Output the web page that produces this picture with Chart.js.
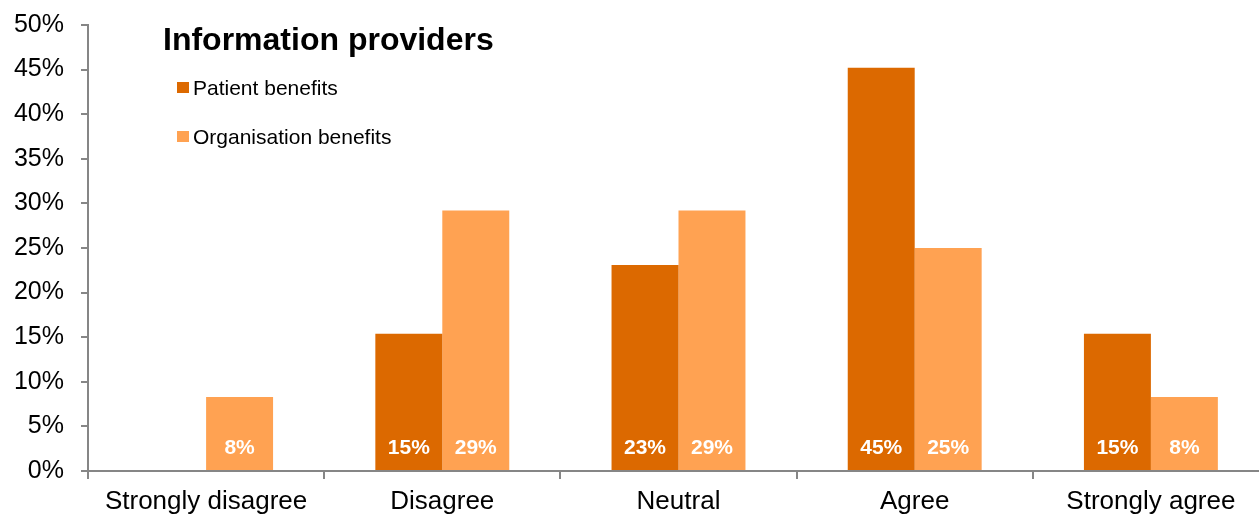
<!DOCTYPE html>
<html>
<head>
<meta charset="utf-8">
<script src="https://cdn.jsdelivr.net/npm/chart.js@4/dist/chart.umd.min.js"></script>
<style>
  html, body { margin: 0; padding: 0; background: #fff; overflow: hidden; }
  #frame { width: 1259px; height: 518px; overflow: hidden; position: relative; }
  #wrap { width: 1270px; height: 518px; position: absolute; left: 0; top: 0; }
</style>
</head>
<body>
<div id="frame"><div id="wrap"><canvas id="chart" width="1270" height="518"></canvas></div></div>
<script>
// Survey responses (% of respondents)
const categories = ['Strongly disagree', 'Disagree', 'Neutral', 'Agree', 'Strongly agree'];
const patientBenefits = [0, 15.4, 23.1, 45.2, 15.4];
const organisationBenefits = [8.3, 29.2, 29.2, 25.0, 8.3];
const seriesNames = ['Patient benefits', 'Organisation benefits'];
const yTickValues = [0, 5, 10, 15, 20, 25, 30, 35, 40, 45, 50];
const chartTitle = 'Information providers';

const COLOR_PATIENT = '#DC6900';
const COLOR_ORG = '#FFA252';
const AXIS_GRAY = '#868686';
const FONT = 'Liberation Sans, Arial, sans-serif';

// White percentage labels near the base of each bar
const barLabels = {
  id: 'barLabels',
  afterDatasetsDraw(chart) {
    const ctx = chart.ctx;
    ctx.save();
    ctx.fillStyle = '#ffffff';
    ctx.font = 'bold 21px ' + FONT;
    ctx.textAlign = 'center';
    ctx.textBaseline = 'middle';
    chart.data.datasets.forEach((ds, di) => {
      const meta = chart.getDatasetMeta(di);
      meta.data.forEach((bar, i) => {
        const v = ds.data[i];
        if (!v) return;
        ctx.fillText(Math.round(v) + '%', bar.x, bar.base - 22);
      });
    });
    ctx.restore();
  }
};

// Title and legend drawn inside the plot area
const titleLegend = {
  id: 'titleLegend',
  afterDraw(chart) {
    const ctx = chart.ctx;
    ctx.save();
    ctx.fillStyle = '#000000';
    ctx.font = 'bold 32px ' + FONT;
    ctx.textAlign = 'left';
    ctx.textBaseline = 'alphabetic';
    ctx.fillText(chartTitle, 163, 50);

    const rows = [88, 137];
    ctx.font = '21px ' + FONT;
    ctx.textBaseline = 'middle';
    chart.data.datasets.forEach((ds, i) => {
      ctx.fillStyle = ds.backgroundColor;
      ctx.fillRect(177, rows[i] - 6, 12, 11);
      ctx.fillStyle = '#000000';
      ctx.fillText(ds.label, 193, rows[i] + 1);
    });
    ctx.restore();
  }
};

new Chart(document.getElementById('chart'), {
  type: 'bar',
  data: {
    labels: categories,
    datasets: [
      { label: seriesNames[0], data: patientBenefits, backgroundColor: COLOR_PATIENT },
      { label: seriesNames[1], data: organisationBenefits, backgroundColor: COLOR_ORG }
    ]
  },
  options: {
    responsive: false,
    animation: false,
    layout: { padding: { top: 25, right: 1, left: 0, bottom: 0 } },
    datasets: { bar: { barPercentage: 1, categoryPercentage: 0.567 } },
    plugins: {
      legend: { display: false },
      title: { display: false },
      tooltip: { enabled: false }
    },
    scales: {
      x: {
        offset: true,
        grid: {
          offset: true,
          drawOnChartArea: false,
          drawTicks: true,
          tickLength: 8,
          color: AXIS_GRAY,
          lineWidth: 2
        },
        border: { color: AXIS_GRAY, width: 2 },
        ticks: {
          color: '#000000',
          font: { family: FONT, size: 26 },
          padding: 7,
          maxRotation: 0,
          autoSkip: false
        },
        afterFit(scale) {
          scale.height = 47;
          scale.paddingLeft = 0;
          scale.paddingRight = 0;
        }
      },
      y: {
        min: 0,
        max: 50,
        afterBuildTicks(scale) { scale.ticks = yTickValues.map(v => ({ value: v })); },
        grid: {
          drawOnChartArea: false,
          drawTicks: true,
          tickLength: 7,
          color: AXIS_GRAY,
          lineWidth: 2
        },
        border: { color: AXIS_GRAY, width: 2 },
        ticks: {
          color: '#000000',
          font: { family: FONT, size: 25 },
          padding: 17,
          callback: v => v + '%'
        },
        afterFit(scale) {
          scale.width = 88;
          scale.paddingTop = 0;
          scale.paddingBottom = 0;
        }
      }
    }
  },
  plugins: [barLabels, titleLegend]
});
</script>
</body>
</html>
